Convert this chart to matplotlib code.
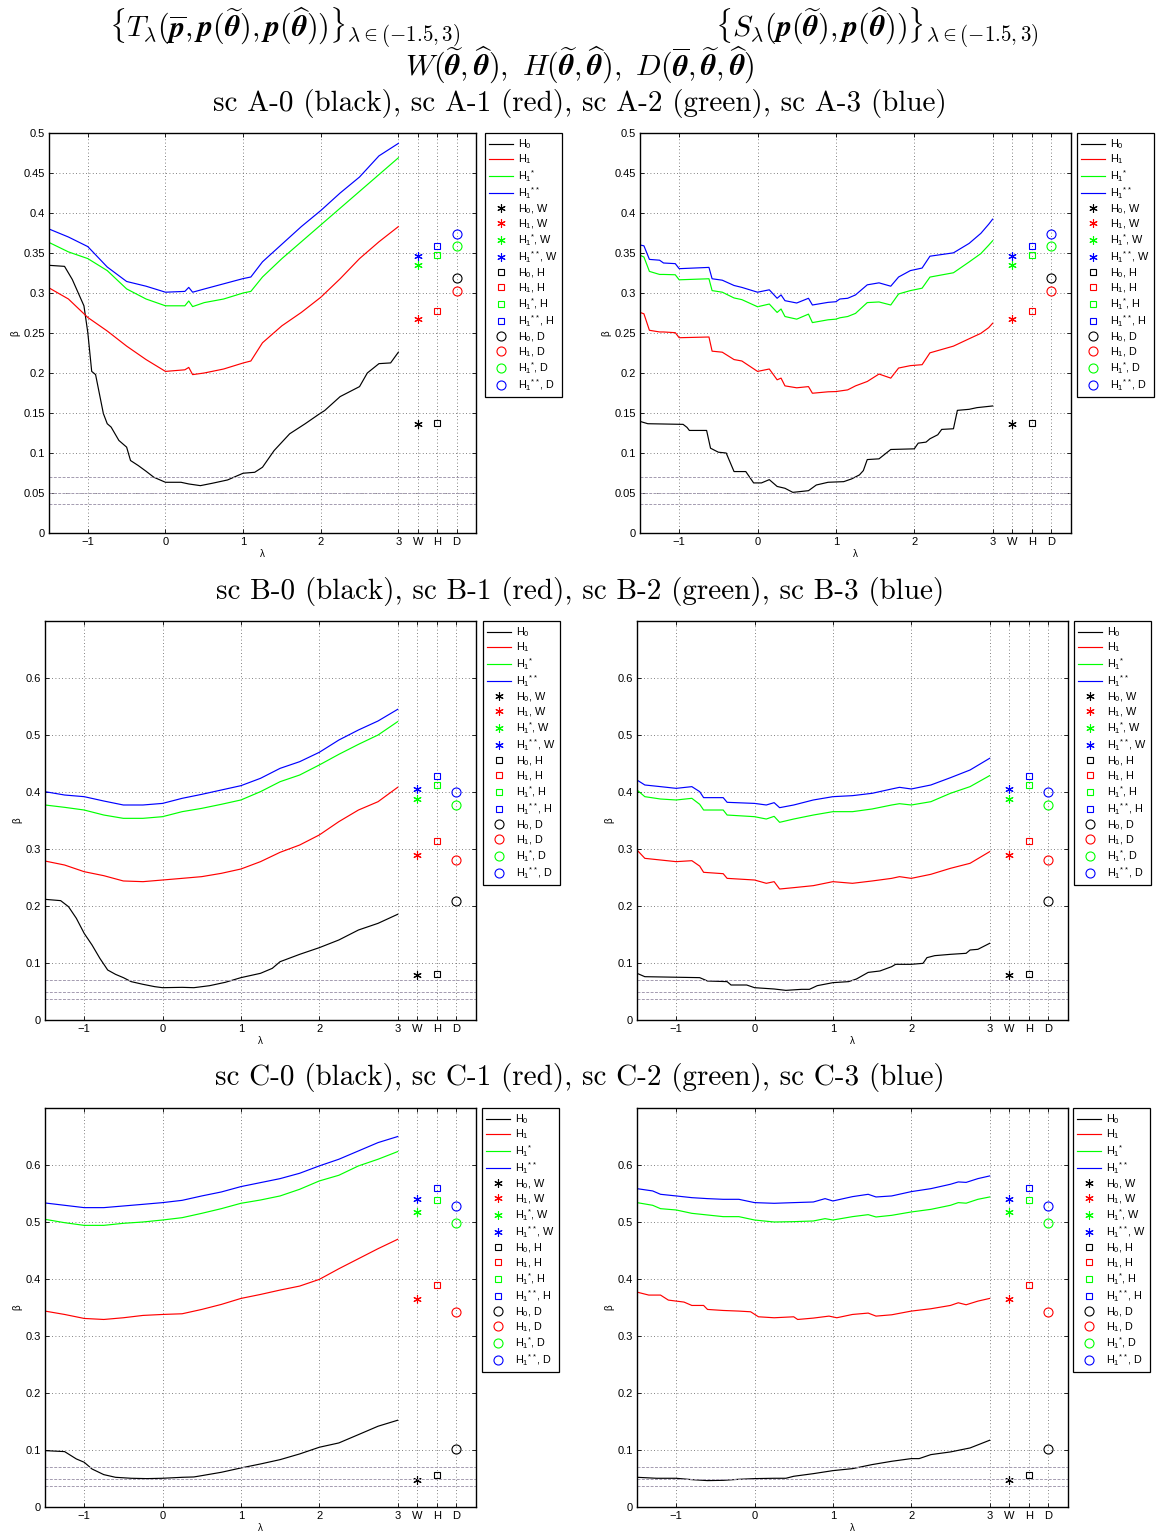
"""Power curves of the T_lambda / S_lambda tests vs W, H, D (scenarios A, B, C)."""
import matplotlib
matplotlib.use("Agg")
import matplotlib.pyplot as plt

# --- data ------------------------------------------------------------------
# row A, T_lambda panel
lam_AT = [-1.5, -1.25, -1, -0.75, -0.5, -0.25, 0, 0.25, 0.3, 0.35, 0.5, 0.75, 1, 1.1,
          1.25, 1.5, 1.75, 2, 2.25, 2.5, 2.75, 3]
AT_b = [0.380, 0.370, 0.358, 0.3325, 0.3144, 0.3085, 0.301, 0.302, 0.307, 0.301, 0.305,
        0.3115, 0.318, 0.320, 0.339, 0.361, 0.383, 0.403, 0.425, 0.445, 0.4714, 0.487]
AT_g = [0.3632, 0.3514, 0.343, 0.328, 0.3051, 0.2925, 0.284, 0.284, 0.290, 0.283, 0.288,
        0.2925, 0.300, 0.302, 0.320, 0.343, 0.364, 0.385, 0.406, 0.427, 0.448, 0.469]
AT_r = [0.3064, 0.2925, 0.2694, 0.2525, 0.2336, 0.2168, 0.202, 0.204, 0.207, 0.198, 0.200,
        0.205, 0.2125, 0.215, 0.2378, 0.259, 0.2757, 0.2946, 0.3178, 0.343, 0.364, 0.383]
lam_AT_k = [-1.5, -1.3, -1.2, -1.05, -1, -0.95, -0.9, -0.8, -0.75, -0.7, -0.6, -0.5, -0.45,
            -0.35, -0.25, -0.15, -0.05, 0, 0.2, 0.3, 0.45, 0.6, 0.8, 1, 1.15, 1.25, 1.4,
            1.6, 1.8, 2, 2.05, 2.25, 2.5, 2.6, 2.75, 2.9, 3]
AT_k = [0.3346, 0.3333, 0.3169, 0.284, 0.2504, 0.202, 0.198, 0.1494, 0.1366, 0.1324, 0.1157,
        0.1073, 0.0906, 0.0843, 0.0772, 0.0697, 0.0655, 0.0634, 0.0634, 0.0613, 0.0592,
        0.0621, 0.0663, 0.0747, 0.0759, 0.0822, 0.1031, 0.124, 0.1366, 0.150, 0.153,
        0.1705, 0.183, 0.200, 0.2117, 0.2126, 0.226]

# row A, S_lambda panel
lam_AS = [-1.5, -1.45, -1.38, -1.25, -1.2, -1.05, -1.0, -0.62, -0.58, -0.45, -0.3, -0.2, 0,
          0.15, 0.25, 0.3, 0.35, 0.5, 0.65, 0.7, 0.9, 1.0, 1.05, 1.15, 1.25, 1.4, 1.55,
          1.7, 1.8, 1.95, 2.1, 2.2, 2.5, 2.7, 2.85, 2.95, 3]
AS_b = [0.360, 0.359, 0.342, 0.341, 0.3375, 0.3367, 0.3304, 0.332, 0.3178, 0.316, 0.3094,
        0.307, 0.301, 0.304, 0.2934, 0.2976, 0.2904, 0.2875, 0.2934, 0.285, 0.2883, 0.2891,
        0.2925, 0.2934, 0.2976, 0.3102, 0.3127, 0.3085, 0.320, 0.328, 0.3312, 0.346,
        0.3502, 0.362, 0.3746, 0.386, 0.3923]
AS_g = [0.3472, 0.345, 0.327, 0.3232, 0.3232, 0.3228, 0.3165, 0.3178, 0.303, 0.301, 0.2938,
        0.2917, 0.2828, 0.2862, 0.2757, 0.280, 0.2706, 0.2673, 0.2736, 0.263, 0.2665,
        0.2673, 0.269, 0.2706, 0.2745, 0.288, 0.2888, 0.285, 0.2988, 0.303, 0.306, 0.3199,
        0.3253, 0.3388, 0.3493, 0.3598, 0.3653]
AS_r = [0.2757, 0.274, 0.2534, 0.2513, 0.2513, 0.2504, 0.2441, 0.245, 0.2273, 0.226, 0.2168,
        0.215, 0.202, 0.205, 0.1915, 0.1936, 0.1839, 0.1815, 0.183, 0.1747, 0.1765, 0.1768,
        0.1775, 0.1789, 0.1839, 0.1894, 0.1987, 0.1936, 0.2062, 0.2092, 0.2104, 0.2252,
        0.2336, 0.2428, 0.2496, 0.2567, 0.2622]
lam_AS_k = [-1.5, -1.4, -0.95, -0.9, -0.87, -0.65, -0.6, -0.5, -0.4, -0.3, -0.15, -0.05, 0.05,
            0.15, 0.25, 0.35, 0.45, 0.65, 0.75, 0.9, 1.1, 1.2, 1.3, 1.35, 1.4, 1.55, 1.7,
            2.0, 2.05, 2.15, 2.2, 2.3, 2.35, 2.5, 2.55, 2.7, 2.8, 3]
AS_k = [0.1395, 0.1366, 0.1358, 0.132, 0.1282, 0.1282, 0.106, 0.101, 0.100, 0.0768, 0.0768,
        0.0626, 0.0626, 0.0667, 0.0582, 0.0559, 0.0508, 0.0529, 0.060, 0.0634, 0.0642,
        0.0676, 0.0726, 0.078, 0.0918, 0.0927, 0.1044, 0.1052, 0.1123, 0.1136, 0.1178,
        0.1228, 0.1295, 0.1303, 0.1533, 0.1546, 0.1567, 0.1588]

# row B, T_lambda panel
lam_BT = [-1.5, -1.25, -1, -0.75, -0.5, -0.25, 0, 0.25, 0.5, 0.75, 1, 1.25, 1.5, 1.75, 2,
          2.25, 2.5, 2.75, 3]
BT_b = [0.4006, 0.3947, 0.3918, 0.3842, 0.3772, 0.3772, 0.380, 0.3889, 0.3959, 0.4035,
        0.4111, 0.424, 0.4415, 0.4532, 0.4696, 0.4912, 0.5088, 0.5246, 0.545]
BT_g = [0.3772, 0.3731, 0.3684, 0.3596, 0.3538, 0.3538, 0.3567, 0.3655, 0.3713, 0.3784,
        0.386, 0.4006, 0.4181, 0.4298, 0.4474, 0.4661, 0.4836, 0.500, 0.5234]
BT_r = [0.2789, 0.2719, 0.2602, 0.2532, 0.2439, 0.2427, 0.2456, 0.2485, 0.2515, 0.2573,
        0.2649, 0.2778, 0.2942, 0.307, 0.3246, 0.348, 0.3684, 0.383, 0.4082]
lam_BT_k = [-1.5, -1.3, -1.2, -1.1, -1, -0.9, -0.8, -0.7, -0.6, -0.5, -0.4, -0.25, -0.1, 0,
            0.25, 0.4, 0.6, 0.8, 1, 1.25, 1.4, 1.5, 1.75, 2, 2.25, 2.5, 2.75, 3]
BT_k = [0.2117, 0.2094, 0.1988, 0.1784, 0.152, 0.1316, 0.1082, 0.0877, 0.0801, 0.0743,
        0.0673, 0.0626, 0.0585, 0.0567, 0.0573, 0.0567, 0.0602, 0.0661, 0.0743, 0.0819,
        0.0906, 0.1023, 0.1152, 0.1269, 0.1404, 0.1579, 0.1696, 0.1854]

# row B, S_lambda panel
lam_BS = [-1.5, -1.4, -1.2, -1.0, -0.8, -0.7, -0.65, -0.4, -0.35, 0, 0.15, 0.25, 0.32, 0.5,
          0.75, 1.0, 1.25, 1.5, 1.75, 1.85, 2.0, 2.25, 2.5, 2.75, 3]
BS_b = [0.421, 0.4123, 0.4094, 0.4064, 0.4094, 0.4006, 0.3901, 0.3901, 0.3819, 0.380, 0.3772,
        0.3813, 0.3725, 0.3772, 0.386, 0.3918, 0.3936, 0.3977, 0.4053, 0.4082, 0.4053,
        0.4123, 0.4251, 0.4386, 0.4591]
BS_g = [0.4035, 0.3918, 0.3877, 0.386, 0.3889, 0.3784, 0.3684, 0.3684, 0.3596, 0.3567,
        0.3526, 0.3573, 0.3468, 0.3526, 0.3596, 0.3655, 0.3655, 0.3702, 0.3772, 0.3795,
        0.3772, 0.383, 0.3977, 0.4094, 0.4287]
BS_r = [0.2982, 0.2836, 0.2807, 0.2778, 0.2795, 0.270, 0.2591, 0.2567, 0.2485, 0.2456,
        0.2398, 0.2427, 0.2298, 0.2322, 0.2357, 0.2427, 0.2398, 0.2439, 0.2485, 0.2515,
        0.2485, 0.2556, 0.2661, 0.2749, 0.2953]
lam_BS_k = [-1.5, -1.4, -0.7, -0.6, -0.35, -0.3, -0.1, 0, 0.25, 0.4, 0.6, 0.7, 0.8, 1.0, 1.2,
            1.3, 1.45, 1.6, 1.75, 1.8, 2.0, 2.15, 2.2, 2.3, 2.5, 2.7, 2.75, 2.85, 3]
BS_k = [0.0819, 0.076, 0.0743, 0.0684, 0.0673, 0.0614, 0.0614, 0.0567, 0.0544, 0.052,
        0.0538, 0.0538, 0.0602, 0.0655, 0.0673, 0.0719, 0.0835, 0.086, 0.0936, 0.0977,
        0.0977, 0.0994, 0.1094, 0.1129, 0.1152, 0.117, 0.1228, 0.124, 0.1345]

# row C, T_lambda panel
lam_CT = lam_BT
CT_b = [0.5334, 0.5293, 0.5252, 0.5252, 0.5281, 0.531, 0.534, 0.538, 0.5457, 0.5527, 0.5621,
        0.5691, 0.5761, 0.5855, 0.5984, 0.6101, 0.6247, 0.6393, 0.6499]
CT_g = [0.5047, 0.4988, 0.4941, 0.4941, 0.4977, 0.500, 0.5035, 0.5076, 0.5152, 0.5234,
        0.5328, 0.5386, 0.5457, 0.5574, 0.572, 0.582, 0.5984, 0.6101, 0.6235]
CT_r = [0.3437, 0.3378, 0.3308, 0.329, 0.332, 0.3361, 0.3378, 0.339, 0.3466, 0.3554, 0.3659,
        0.3729, 0.3806, 0.3876, 0.3993, 0.418, 0.4356, 0.4532, 0.4696]
lam_CT_k = [-1.5, -1.25, -1.1, -1, -0.9, -0.75, -0.6, -0.4, -0.2, 0, 0.25, 0.4, 0.5, 0.75, 1,
            1.25, 1.5, 1.75, 2, 2.25, 2.5, 2.75, 3]
CT_k = [0.0989, 0.0972, 0.0843, 0.0785, 0.0667, 0.0568, 0.0521, 0.0504, 0.0498, 0.0504,
        0.0521, 0.0527, 0.055, 0.0609, 0.0685, 0.0755, 0.0831, 0.0931, 0.1048, 0.1124,
        0.127, 0.1417, 0.1522]

# row C, S_lambda panel
lam_CS = [-1.5, -1.3, -1.2, -1.0, -0.8, -0.6, -0.4, -0.2, 0, 0.25, 0.5, 0.75, 0.9, 1.0, 1.25,
          1.45, 1.55, 1.75, 2.0, 2.25, 2.5, 2.6, 2.7, 2.85, 3]
CS_b = [0.5585, 0.5545, 0.5486, 0.5457, 0.5427, 0.541, 0.5398, 0.5398, 0.534, 0.5328, 0.534,
        0.5351, 0.541, 0.5369, 0.5445, 0.5486, 0.5439, 0.5457, 0.5533, 0.5585, 0.5662,
        0.5703, 0.5695, 0.5761, 0.5808]
CS_g = [0.534, 0.5293, 0.5234, 0.5211, 0.5152, 0.5123, 0.5094, 0.5094, 0.5035, 0.500,
        0.5006, 0.5018, 0.5059, 0.5035, 0.5094, 0.5129, 0.5088, 0.5117, 0.5176, 0.5222,
        0.5293, 0.534, 0.533, 0.5398, 0.5439]
lam_CS_r = [-1.5, -1.35, -1.2, -1.1, -0.9, -0.8, -0.65, -0.6, -0.4, -0.2, -0.05, 0.05, 0.25,
            0.5, 0.55, 0.75, 0.95, 1.05, 1.25, 1.45, 1.55, 1.75, 2.0, 2.25, 2.5, 2.6, 2.7,
            2.85, 3]
CS_r = [0.377, 0.3718, 0.3718, 0.363, 0.3595, 0.3536, 0.3536, 0.3466, 0.3448, 0.3437, 0.3425,
        0.3337, 0.332, 0.3337, 0.329, 0.3314, 0.3349, 0.332, 0.3378, 0.3402, 0.3349, 0.3372,
        0.3437, 0.3478, 0.3536, 0.3583, 0.3548, 0.3612, 0.3659]
lam_CS_k = [-1.5, -1.25, -1.0, -0.8, -0.6, -0.4, -0.2, 0, 0.25, 0.4, 0.5, 0.75, 1.0, 1.25,
            1.5, 1.75, 2.0, 2.1, 2.25, 2.5, 2.75, 3]
CS_k = [0.0521, 0.0504, 0.0504, 0.048, 0.0463, 0.0468, 0.0486, 0.0498, 0.0504, 0.0504,
        0.0539, 0.0585, 0.0638, 0.0673, 0.0744, 0.0802, 0.0849, 0.0849, 0.0919, 0.0966,
        0.1036, 0.1171]

# W / H / D single-value tests, order: sc X-0 (k), X-1 (r), X-2 (g), X-3 (b)
A_W = [0.1366, 0.2672, 0.3354, 0.3459]
A_H = [0.1374, 0.2773, 0.348, 0.3589]
A_D = [0.3185, 0.3025, 0.3585, 0.3737]
B_W = [0.0784, 0.2889, 0.3871, 0.4047]
B_H = [0.0813, 0.3135, 0.4117, 0.4287]
B_D = [0.2094, 0.2801, 0.3772, 0.4006]
C_W = [0.0474, 0.3648, 0.5181, 0.5404]
C_H = [0.0562, 0.3888, 0.538, 0.5603]
C_D = [0.1013, 0.3425, 0.4988, 0.5287]

# reference levels (nominal size band)
ref_levels = [0.07, 0.05, 0.036]

colors = ["#000000", "#ff0000", "#00ff00", "#0000ff"]
curve_labels = [r"H$_\mathregular{0}$", r"H$_\mathregular{1}$",
                r"H$_\mathregular{1}$$^\mathregular{*}$", r"H$_\mathregular{1}$$^\mathregular{**}$"]
xtick_pos = [-1, 0, 1, 2, 3, 3.25, 3.5, 3.75]
xtick_lab = ["\u22121", "0", "1", "2", "3", "W", "H", "D"]
test_x = {"W": 3.25, "H": 3.5, "D": 3.75}

panels = [
    # (axes rect in px: left, top, right, bottom), legend corner px, curves, tests, ymax
    ((49, 133, 476, 533), (485, 133),
     [(lam_AT_k, AT_k), (lam_AT, AT_r), (lam_AT, AT_g), (lam_AT, AT_b)],
     (A_W, A_H, A_D), 0.5),
    ((640, 133, 1071, 533), (1077, 133),
     [(lam_AS_k, AS_k), (lam_AS, AS_r), (lam_AS, AS_g), (lam_AS, AS_b)],
     (A_W, A_H, A_D), 0.5),
    ((45, 621, 476, 1020), (483, 621),
     [(lam_BT_k, BT_k), (lam_BT, BT_r), (lam_BT, BT_g), (lam_BT, BT_b)],
     (B_W, B_H, B_D), 0.7),
    ((637, 621, 1068, 1020), (1074, 621),
     [(lam_BS_k, BS_k), (lam_BS, BS_r), (lam_BS, BS_g), (lam_BS, BS_b)],
     (B_W, B_H, B_D), 0.7),
    ((45, 1108, 476, 1507), (482, 1108),
     [(lam_CT_k, CT_k), (lam_CT, CT_r), (lam_CT, CT_g), (lam_CT, CT_b)],
     (C_W, C_H, C_D), 0.7),
    ((637, 1108, 1068, 1507), (1073, 1108),
     [(lam_CS_k, CS_k), (lam_CS_r, CS_r), (lam_CS, CS_g), (lam_CS, CS_b)],
     (C_W, C_H, C_D), 0.7),
]

W_PX, H_PX = 1156, 1537


def fx(px):
    return px / W_PX


def fy(py):
    return 1 - py / H_PX


def main():
    plt.rcParams["font.family"] = ["Liberation Sans", "DejaVu Sans"]
    fig = plt.figure(figsize=(W_PX / 100, H_PX / 100), dpi=100)

    asterisk = (6, 2, 0)
    for rect, leg_xy, curves, tests, ymax in panels:
        l, t, r, b = rect
        ax = fig.add_axes([fx(l), fy(b), (r - l) / W_PX, (b - t) / H_PX])

        for (lam, vals), c, lab in zip(curves, colors, curve_labels):
            ax.plot(lam, vals, color=c, lw=0.85, label=lab)

        for key, vals, mk, ms in zip(("W", "H", "D"), tests, (asterisk, "s", "o"), (6, 5, 6.5)):
            for v, c, lab in zip(vals, colors, curve_labels):
                ax.plot([test_x[key]], [v], linestyle="none", marker=mk, markersize=ms,
                        markeredgecolor=c, markerfacecolor="none", markeredgewidth=0.8,
                        label=f"{lab}, {key}")

        for lvl in ref_levels:
            ax.axhline(lvl, color="#a49bb0", lw=0.7, linestyle=(0, (3, 1.5)))

        ax.set_xlim(-1.5, 4)
        ax.set_ylim(0, ymax)
        ax.set_xticks(xtick_pos)
        ax.set_xticklabels(xtick_lab)
        if ymax == 0.5:
            yt = [i * 0.05 for i in range(11)]
        else:
            yt = [i * 0.1 for i in range(7)]
        ax.set_yticks(yt)
        ax.set_yticklabels([f"{v:g}" for v in [round(y, 2) for y in yt]])
        ax.tick_params(direction="in", top=True, right=True, length=3, width=0.6,
                       labelsize=8, pad=3)
        ax.grid(True, color="0.35", lw=0.6, linestyle=(0, (1, 3)))
        for sp in ax.spines.values():
            sp.set_linewidth(1.0)
        ax.set_xlabel("\u03bb", fontsize=7, labelpad=1)
        ax.set_ylabel("\u03b2", fontsize=7, labelpad=2)

        leg = ax.legend(loc="upper left", bbox_to_anchor=(fx(leg_xy[0]), fy(leg_xy[1])),
                        bbox_transform=fig.transFigure, borderaxespad=0, fontsize=7.8,
                        numpoints=1, handlelength=2.2, handletextpad=0.45,
                        labelspacing=0.14, borderpad=0.4, fancybox=False, framealpha=1)
        leg.get_frame().set_edgecolor("k")
        leg.get_frame().set_linewidth(0.9)

    # --- titles ---
    tkw = dict(ha="center", va="center", fontsize=21.5, math_fontfamily="cm")
    fig.text(fx(285), fy(28),
             r"$\{T_{\lambda}(\overline{\boldsymbol{p}}, \boldsymbol{p}(\widetilde{\boldsymbol{\theta}}),"
             r" \boldsymbol{p}(\widehat{\boldsymbol{\theta}}))\}_{\lambda \in (-1.5,3)}$", **tkw)
    fig.text(fx(877), fy(28),
             r"$\{S_{\lambda}(\boldsymbol{p}(\widetilde{\boldsymbol{\theta}}),"
             r" \boldsymbol{p}(\widehat{\boldsymbol{\theta}}))\}_{\lambda \in (-1.5,3)}$", **tkw)
    fig.text(fx(580), fy(65),
             r"$W(\widetilde{\boldsymbol{\theta}}, \widehat{\boldsymbol{\theta}}),\ "
             r"H(\widetilde{\boldsymbol{\theta}}, \widehat{\boldsymbol{\theta}}),\ "
             r"D(\overline{\boldsymbol{\theta}}, \widetilde{\boldsymbol{\theta}}, \widehat{\boldsymbol{\theta}})$",
             **tkw)
    for sc, ypx in (("A", 103), ("B", 591), ("C", 1078)):
        fig.text(fx(580), fy(ypx),
                 f"sc {sc}-0 (black), sc {sc}-1 (red), sc {sc}-2 (green), sc {sc}-3 (blue)",
                 ha="center", va="center", fontsize=21, family="cmr10")

    fig.savefig("out.png", dpi=100)
    plt.close(fig)


if __name__ == "__main__":
    main()
